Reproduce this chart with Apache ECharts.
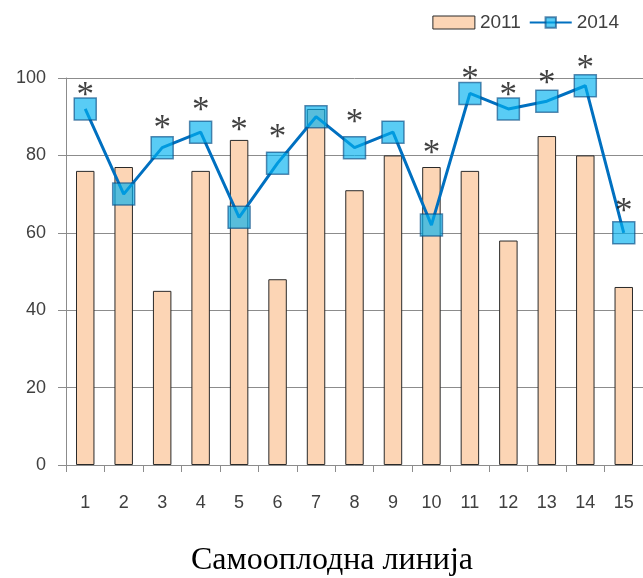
<!DOCTYPE html>
<html>
<head>
<meta charset="utf-8">
<script src="https://cdn.jsdelivr.net/npm/echarts@6/dist/echarts.min.js"></script>
<style>
  html, body { margin: 0; padding: 0; background: #fff; }
  #main { width: 643px; height: 578px; }
</style>
</head>
<body>
<div id="main"></div>
<script>
// категорије (линије 1-15)
var lines = ['1','2','3','4','5','6','7','8','9','10','11','12','13','14','15'];
// 2011 - стубићи
var data2011 = [76, 77, 45, 76, 84, 48, 92, 71, 80, 77, 76, 58, 85, 80, 46];
// 2014 - линија
var data2014 = [92, 70, 82, 86, 64, 78, 90, 82, 86, 62, 96, 92, 94, 98, 60];
// положај звездица (null = нема звездице)
var starPos = [97, null, 88.5, 93, 88, 86, null, 90, null, 82, 101, 97, 100, 104, 67];
var yTicks = { min: 0, max: 100, interval: 20 };

var textColor = '#404040';
var gridColor = '#8c8c8c';

var myChart = echarts.init(document.getElementById('main'));
myChart.setOption({
  animation: false,
  textStyle: { fontFamily: 'Liberation Sans' },
  grid: { left: 66, right: 0, top: 78, bottom: 113 },
  legend: {
    right: 19,
    top: 8,
    itemWidth: 42,
    itemHeight: 13,
    itemGap: 8,
    textStyle: { fontSize: 19, color: textColor, fontFamily: 'Liberation Sans' },
    data: [
      { name: '2011', icon: 'rect', itemStyle: { borderWidth: 1 } },
      { name: '2014' }
    ]
  },
  xAxis: {
    type: 'category',
    data: lines,
    axisLine: { lineStyle: { color: gridColor, width: 1 } },
    axisTick: { show: true, length: 7, interval: 0, lineStyle: { color: gridColor } },
    axisLabel: { fontSize: 18, color: textColor, margin: 29, interval: 0 }
  },
  yAxis: {
    type: 'value',
    min: yTicks.min,
    max: yTicks.max,
    interval: yTicks.interval,
    axisLine: { show: true, lineStyle: { color: gridColor, width: 1 } },
    axisTick: { show: true, length: 8, lineStyle: { color: gridColor } },
    axisLabel: { fontSize: 18, color: textColor, margin: 20 },
    splitLine: { lineStyle: { color: gridColor, width: 1 } }
  },
  series: [
    {
      name: '2011',
      type: 'bar',
      data: data2011,
      barWidth: '48%',
      itemStyle: { color: '#FCD5B5', borderColor: '#2a2a2a', borderWidth: 1 }
    },
    {
      name: '2014',
      type: 'line',
      data: data2014,
      symbol: 'rect',
      symbolSize: 22,
      lineStyle: { color: '#0070C0', width: 3 },
      itemStyle: { color: '#00B0F0', opacity: 0.65, borderColor: '#0B4F86', borderWidth: 1.5 },
      z: 3
    },
    {
      name: 'sig',
      type: 'scatter',
      data: starPos,
      clip: false,
      symbolSize: 1,
      itemStyle: { color: 'transparent' },
      label: {
        show: true,
        position: 'inside',
        formatter: '*',
        fontFamily: 'Liberation Serif',
        fontSize: 35,
        color: '#111',
        offset: [0, 7]
      },
      z: 5
    }
  ],
  graphic: [{
    type: 'text',
    x: 332,
    y: 545,
    style: {
      text: 'Самооплодна линија',
      fontFamily: 'Liberation Serif',
      fontSize: 32,
      fill: '#000',
      align: 'center'
    }
  }]
});
</script>
</body>
</html>
